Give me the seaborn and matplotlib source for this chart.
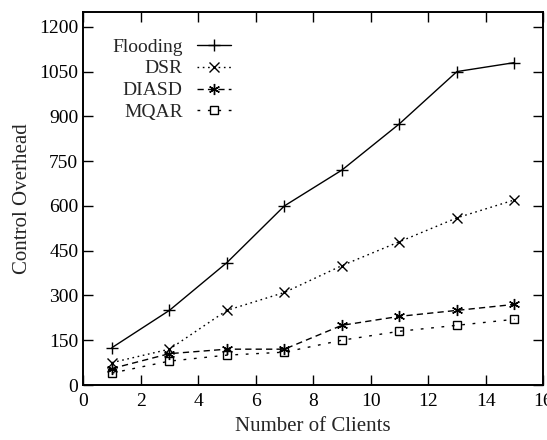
import matplotlib
matplotlib.use("Agg")
import matplotlib.pyplot as plt
import seaborn as sns
import pandas as pd

clients = [1, 3, 5, 7, 9, 11, 13, 15]
flooding = [125, 250, 410, 600, 720, 875, 1050, 1080]
dsr = [75, 120, 250, 310, 400, 480, 560, 620]
diasd = [55, 105, 120, 120, 200, 230, 250, 270]
mqar = [40, 80, 100, 110, 150, 180, 200, 220]
series_names = ["Flooding", "DSR", "DIASD", "MQAR"]
x_ticks = [0, 2, 4, 6, 8, 10, 12, 14, 16]
y_ticks = [0, 150, 300, 450, 600, 750, 900, 1050, 1200]

sns.set_theme(style="ticks")
plt.rcParams["font.family"] = ["Liberation Serif", "DejaVu Serif"]

fig = plt.figure(figsize=(5.47, 4.40), dpi=100)
ax = fig.add_axes([0.152, 0.125, 0.841, 0.848])

df = pd.DataFrame({
    "x": clients * 4,
    "y": flooding + dsr + diasd + mqar,
    "s": sum([[n] * len(clients) for n in series_names], []),
})

styles = {
    "Flooding": dict(ls="-", marker="+", ms=8, mfc="black"),
    "DSR": dict(ls=(0, (1.2, 2.6)), marker="x", ms=6.5, mfc="black"),
    "DIASD": dict(ls=(0, (4.5, 3)), marker=(6, 2, 0), ms=8, mfc="black"),
    "MQAR": dict(ls=(0, (2, 5.5)), marker="s", ms=5.5, mfc="none"),
}

for name in series_names:
    st = styles[name]
    sub = df[df["s"] == name]
    sns.lineplot(data=sub, x="x", y="y", ax=ax, color="black", lw=1.0,
                 linestyle=st["ls"], marker=st["marker"], markersize=st["ms"],
                 markerfacecolor=st["mfc"], markeredgecolor="black",
                 markeredgewidth=1.0, label=name)

ax.set_xlim(0, 16)
ax.set_ylim(0, 1250)
ax.set_xticks(x_ticks)
ax.set_yticks(y_ticks)
ax.set_xlabel("Number of Clients", fontsize=15, labelpad=5)
ax.set_ylabel("Control Overhead", fontsize=15, labelpad=5)
ax.tick_params(direction="in", length=7, width=1.0, labelsize=14,
               top=True, right=True, colors="black")
ax.tick_params(axis="x", pad=6)
for sp in ax.spines.values():
    sp.set_linewidth(1.4)
    sp.set_color("black")

leg = ax.legend(loc="upper left", bbox_to_anchor=(0.063, 0.93), frameon=False,
                markerfirst=False, fontsize=14, handlelength=1.75,
                labelspacing=0.22, handletextpad=0.75, borderaxespad=0,
                borderpad=0)

fig.savefig("out.png", dpi=100)
